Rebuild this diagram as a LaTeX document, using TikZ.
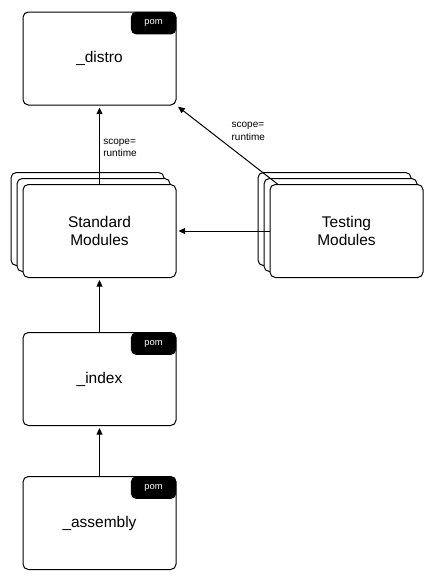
\documentclass[tikz,border=0pt]{standalone}
\usepackage{fontspec}
\setmainfont{Liberation Sans}
\usetikzlibrary{positioning, calc, arrows.meta}

\tikzset{
  module/.style={draw, line width=0.75pt, fill=white, rounded corners=4pt,
    minimum width=114.75pt, minimum height=69.75pt, align=center,
    font=\fontsize{11.6}{13.5}\selectfont},
  pom/.style={fill=black, text=white, rounded corners=4pt, anchor=north east,
    minimum width=34pt, minimum height=17pt, inner sep=0pt,
    font=\fontsize{7}{8}\selectfont},
  dep/.style={line width=0.75pt, -{Triangle[length=5pt,width=4.5pt]}, shorten >=1.5pt},
  scopelbl/.style={anchor=west, align=left, inner sep=0pt,
    font=\fontsize{7.5}{9.5}\selectfont}
}

\begin{document}
\begin{tikzpicture}[x=0.75pt, y=-0.75pt]
  \useasboundingbox (0,0) rectangle (434,582);

  \node[module] (distro) at (99.5,58.5) {\_distro};
  \node[pom] (distro-pom) at (distro.north east) {pom};

  % stacked module boxes
  \node[module] (std3) at (87.5,219) {};
  \node[module] (std2) at (93.5,225) {};
  \node[module] (std)  at (99.5,231) {Standard\\Modules};

  \node[module] (test3) at (334.5,219) {};
  \node[module] (test2) at (340.5,225) {};
  \node[module] (test)  at (346.5,231) {Testing\\Modules};

  \node[module] (index) at (99.5,379) {\_index};
  \node[pom] (index-pom) at (index.north east) {pom};

  \node[module] (assembly) at (99.5,523) {\_assembly};
  \node[pom] (assembly-pom) at (assembly.north east) {pom};

  \draw[dep] (std) -- node[scopelbl, pos=0.46, xshift=2.5pt] {scope=\\runtime} (distro);
  \draw[dep] ([xshift=6pt]test.north west) -- node[scopelbl, pos=0.67, xshift=16pt] {scope=\\runtime} (distro.south east);
  \draw[dep] (test) -- (std);
  \draw[dep] (index) -- (std);
  \draw[dep] (assembly) -- (index);
\end{tikzpicture}
\end{document}
